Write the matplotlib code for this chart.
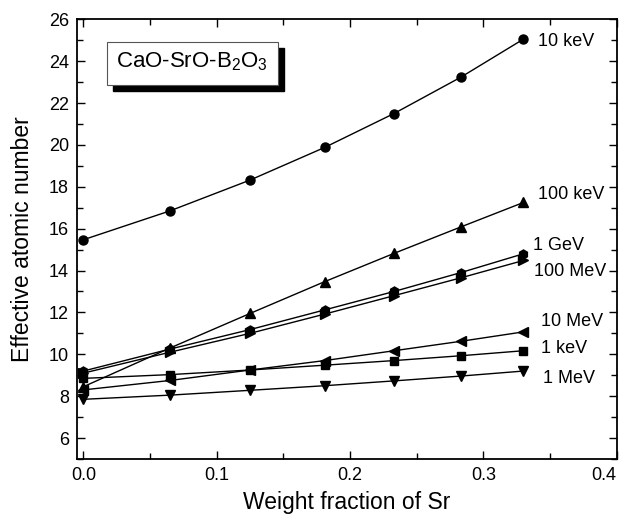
import numpy as np
import matplotlib
matplotlib.use("Agg")
import matplotlib.pyplot as plt
from matplotlib.patches import Rectangle

plt.rcParams['font.family'] = ['Liberation Sans', 'DejaVu Sans']
plt.rcParams['mathtext.fontset'] = 'custom'
plt.rcParams['mathtext.rm'] = 'Liberation Sans'
plt.rcParams['mathtext.it'] = 'Liberation Sans'

# weight fraction of Sr in the glass series
sr_fraction = [0.0, 0.065, 0.125, 0.181, 0.233, 0.283, 0.33]

# effective atomic number at each photon energy
zeff_10keV = [15.47, 16.85, 18.32, 19.88, 21.5, 23.23, 25.05]
zeff_100keV = [8.45, 10.3, 11.95, 13.47, 14.82, 16.08, 17.25]
zeff_1GeV = [9.2, 10.25, 11.18, 12.12, 13.0, 13.9, 14.8]
zeff_100MeV = [9.1, 10.1, 11.0, 11.92, 12.8, 13.65, 14.48]
zeff_10MeV = [8.3, 8.75, 9.25, 9.7, 10.17, 10.62, 11.07]
zeff_1keV = [8.85, 9.03, 9.25, 9.48, 9.7, 9.93, 10.17]
zeff_1MeV = [7.85, 8.05, 8.28, 8.5, 8.73, 8.96, 9.2]

series = [
    (zeff_10keV, 'o', '10 keV', (0.3408, 24.93)),
    (zeff_100keV, '^', '100 keV', (0.3408, 17.62)),
    (zeff_1GeV, 'h', '1 GeV', (0.3373, 15.22)),
    (zeff_100MeV, '>', '100 MeV', (0.3380, 13.94)),
    (zeff_10MeV, '<', '10 MeV', (0.3433, 11.58)),
    (zeff_1keV, 's', '1 keV', (0.3433, 10.28)),
    (zeff_1MeV, 'v', '1 MeV', (0.3445, 8.86)),
]

fig = plt.figure(figsize=(6.2, 5.17), dpi=100)
ax = fig.add_axes([0.1247, 0.1122, 0.87, 0.8505])

for values, marker, label, (tx, ty) in series:
    ms = 6.5 if marker in ('o', 'h') else 7.5
    if marker == 's':
        ms = 5.8
    ax.plot(sr_fraction, values, color='black', lw=1.0, marker=marker,
            markersize=ms, markerfacecolor='black', markeredgecolor='black')
    ax.text(tx, ty, label, fontsize=13, ha='left', va='center', clip_on=False)

ax.set_xlim(-0.0045, 0.4)
ax.set_ylim(5, 26)
ax.set_xticks([0.0, 0.1, 0.2, 0.3, 0.4])
ax.set_xticklabels(['0.0', '0.1', '0.2', '0.3', '0.4'])
ax.set_xticks(np.arange(0.05, 0.4, 0.1), minor=True)
ax.set_yticks(np.arange(6, 27, 2))
ax.set_yticks(np.arange(5, 26, 2), minor=True)
# last x label sits against the right edge of the figure
ax.get_xticklabels()[-1].set_horizontalalignment('right')

ax.tick_params(which='both', direction='in', top=True, right=True,
               width=1.0, labelsize=13, pad=6)
ax.tick_params(which='major', length=6)
ax.tick_params(which='minor', length=4)
for sp in ax.spines.values():
    sp.set_linewidth(1.3)

ax.set_xlabel('Weight fraction of Sr', fontsize=16.5, labelpad=5)
ax.set_ylabel('Effective atomic number', fontsize=16.5, labelpad=11)

# composition label with a drop shadow
x0, y0, w, h = 0.0545, 0.8506, 0.317, 0.0984
ax.add_patch(Rectangle((x0 + 0.012, y0 - 0.0148), w, h, transform=ax.transAxes,
                       facecolor='black', edgecolor='black', zorder=5))
ax.add_patch(Rectangle((x0, y0), w, h, transform=ax.transAxes,
                       facecolor='white', edgecolor='#555555', lw=0.8, zorder=6))
ax.text(x0 + w / 2, y0 + h / 2 + 0.003, 'CaO-SrO-B$_2$O$_3$', transform=ax.transAxes,
        fontsize=16, ha='center', va='center', zorder=7)

fig.savefig('out.png', dpi=100)
